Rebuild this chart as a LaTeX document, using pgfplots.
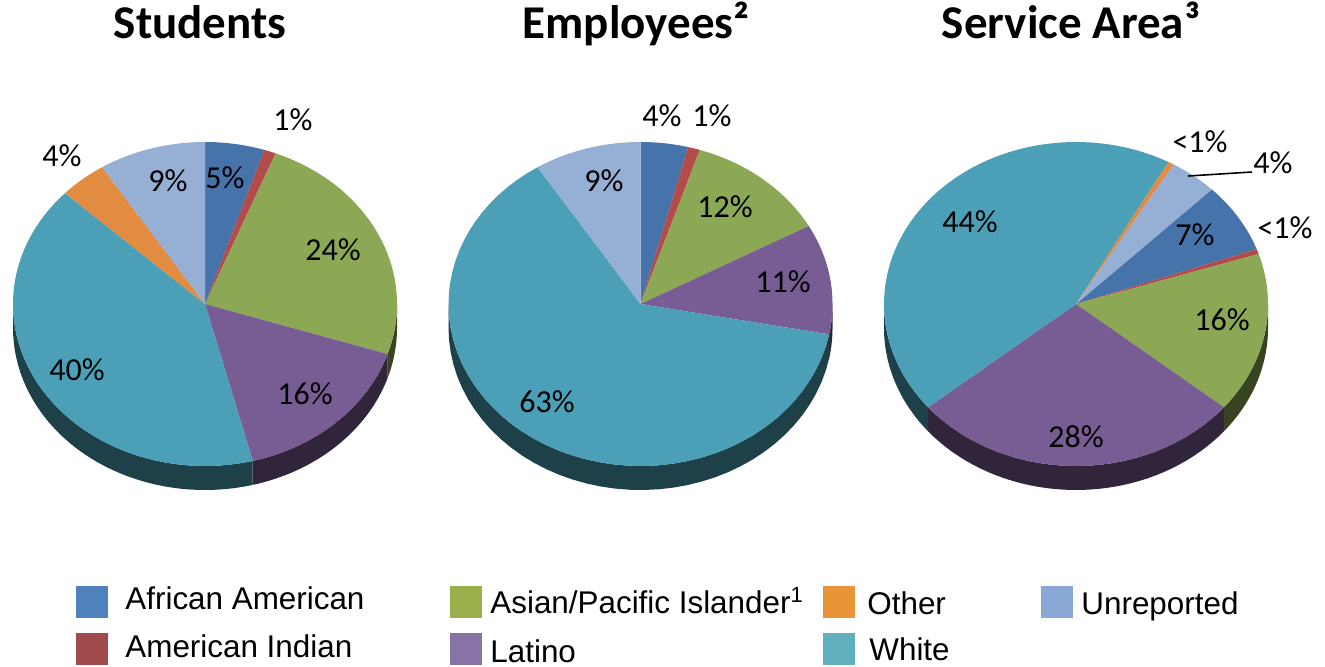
\documentclass[border=0pt]{standalone}
\usepackage{pgfplots}
\pgfplotsset{compat=1.18}
\usepackage{pgfplotstable}
\usepackage{fontspec}
\setmainfont{Carlito}
\newfontfamily\arial{Liberation Sans}

% slice colours (top faces)
\definecolor{c0}{HTML}{4673AA}
\definecolor{c1}{HTML}{B44B4B}
\definecolor{c2}{HTML}{8CA855}
\definecolor{c3}{HTML}{785D94}
\definecolor{c4}{HTML}{4BA0B7}
\definecolor{c5}{HTML}{E18C41}
\definecolor{c6}{HTML}{96AFD5}
% legend colours
\definecolor{l0}{HTML}{4F81BD}
\definecolor{l1}{HTML}{A04B4B}
\definecolor{l2}{HTML}{9BAF4B}
\definecolor{l3}{HTML}{8773A5}
\definecolor{l4}{HTML}{5FAFBE}
\definecolor{l5}{HTML}{E89437}
\definecolor{l6}{HTML}{89A8D6}

\pgfplotstableread{
group share
AA 5
AI 1
AS 24
LA 16
WH 41
OT 4
UN 9
}\students
\pgfplotstableread{
group share
AA 4
AI 1
AS 12
LA 11
WH 63
OT 0
UN 9
}\employees
\pgfplotstableread{
group share
AA 7
AI 0.5
AS 16
LA 28
WH 44
OT 0.5
UN 4
}\servicearea

\def\rx{192}\def\ry{162}\def\dep{24}

% #1 table, #2 cx, #3 cy, #4 start angle (clockwise from top)
\newcommand\drawpie[4]{%
  \xdef\acc{#4}%
  \foreach \i in {0,...,6}{%
    \pgfplotstablegetelem{\i}{share}\of#1%
    \pgfmathsetmacro\a{\acc}%
    \pgfmathsetmacro\b{\acc+3.6*\pgfplotsretval}%
    \xdef\acc{\b}%
    \pgfmathsetmacro\sa{max(\a,90)}%
    \pgfmathsetmacro\sb{min(\b,270)}%
    \ifdim\sa pt<\sb pt
      \fill[c\i!40!black] plot[domain=\sa:\sb,samples=40,variable=\t] (axis cs:{#2+\rx*sin(\t)},{#3+\ry*cos(\t)}) -- plot[domain=\sb:\sa,samples=40,variable=\t] (axis cs:{#2+\rx*sin(\t)},{#3-\dep+\ry*cos(\t)}) -- cycle;
    \fi
    \ifdim\a pt<\b pt
      \fill[c\i] (axis cs:#2,#3) -- plot[domain=\a:\b,samples=60,variable=\t] (axis cs:{#2+\rx*sin(\t)},{#3+\ry*cos(\t)}) -- cycle;
    \fi
  }%
}

\begin{document}
\begin{tikzpicture}
\begin{axis}[x=0.5pt,y=0.5pt,xmin=0,xmax=1325,ymin=0,ymax=666,hide axis,clip=false]
\pgfplotsextra{
  \path (axis cs:0,0) rectangle (axis cs:1325,666);
  \drawpie{\students}{205}{362}{0}
  \drawpie{\employees}{640.5}{362}{0}
  \drawpie{\servicearea}{1076}{362}{45}
  % titles
  \begin{scope}[every node/.style={font=\bfseries\fontsize{23.5}{26}\selectfont,anchor=base,inner sep=0pt}]
    \node at (axis cs:200,627) {Students};
    \node at (axis cs:636,627) {Employees²};
    \node at (axis cs:1071,627) {Service Area³};
  \end{scope}
  % slice labels
  \begin{scope}[every node/.style={font=\fontsize{16}{18}\selectfont,inner sep=0pt}]
    \node at (axis cs:225,488) {5\%};
    \node at (axis cs:293,546) {1\%};
    \node at (axis cs:333,416) {24\%};
    \node at (axis cs:305,272) {16\%};
    \node at (axis cs:77,296) {40\%};
    \node at (axis cs:62,510) {4\%};
    \node at (axis cs:168,485) {9\%};
    \node at (axis cs:662,550) {4\%};
    \node at (axis cs:712,550) {1\%};
    \node at (axis cs:725,459) {12\%};
    \node at (axis cs:783,384) {11\%};
    \node at (axis cs:547,264) {63\%};
    \node at (axis cs:604,485) {9\%};
    \node at (axis cs:1200,524) {<1\%};
    \node at (axis cs:1273,503) {4\%};
    \node at (axis cs:1195,431) {7\%};
    \node at (axis cs:1285,438) {<1\%};
    \node at (axis cs:1222,346) {16\%};
    \node at (axis cs:1076,229) {28\%};
    \node at (axis cs:970,444) {44\%};
  \end{scope}
  \draw[line width=0.8pt] (axis cs:1188,490) -- (axis cs:1252,494);
  % legend
  \fill[l0] (axis cs:76,80) rectangle (axis cs:108,48);
  \fill[l1] (axis cs:76,33) rectangle (axis cs:108,1);
  \fill[l2] (axis cs:450,80) rectangle (axis cs:482,48);
  \fill[l3] (axis cs:450,33) rectangle (axis cs:482,1);
  \fill[l5] (axis cs:823,80) rectangle (axis cs:855,48);
  \fill[l4] (axis cs:823,33) rectangle (axis cs:855,1);
  \fill[l6] (axis cs:1041,80) rectangle (axis cs:1073,48);
  \begin{scope}[every node/.style={font=\arial\fontsize{15.7}{18}\selectfont,anchor=base west,inner sep=0pt}]
    \node at (axis cs:125,57) {African American};
    \node at (axis cs:125,9) {American Indian};
    \node at (axis cs:490,53) {Asian/Pacific Islander\textsuperscript{1}};
    \node at (axis cs:490,4) {Latino};
    \node at (axis cs:867,52) {Other};
    \node at (axis cs:869,6) {White};
    \node at (axis cs:1081,52) {Unreported};
  \end{scope}
}
\end{axis}
\end{tikzpicture}
\end{document}
